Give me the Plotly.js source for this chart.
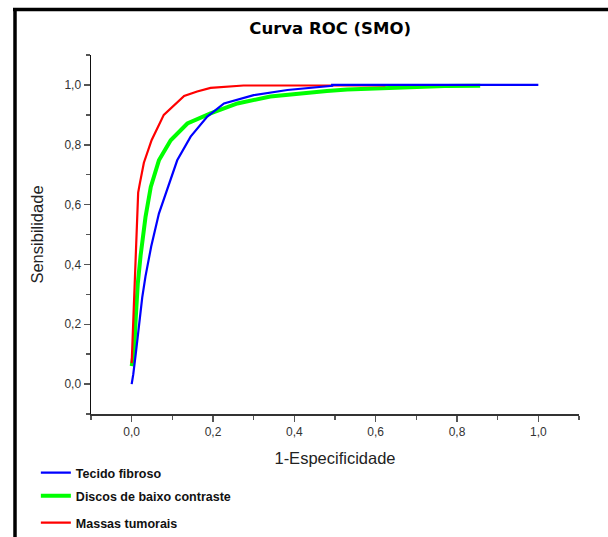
<!DOCTYPE html>
<html>
<head>
<meta charset="utf-8">
<script src="https://cdn.plot.ly/plotly-3.0.1.min.js"></script>
<style>html,body{margin:0;padding:0;background:#fff;}#chart{width:608px;height:537px;}</style>
</head>
<body>
<div id="chart"></div>
<script>
// Tecido fibroso (blue)
const fibrosoX = [0, 0.004, 0.01, 0.018, 0.026, 0.034, 0.048, 0.067, 0.084, 0.112, 0.145, 0.186, 0.227, 0.30, 0.383, 0.493, 0.493, 1.0];
const fibrosoY = [0, 0.033, 0.10, 0.195, 0.29, 0.36, 0.46, 0.57, 0.637, 0.748, 0.827, 0.894, 0.938, 0.966, 0.983, 0.997, 1.0, 1.0];
// Discos de baixo contraste (green)
const discosX = [0, 0.006, 0.01, 0.015, 0.022, 0.034, 0.047, 0.067, 0.096, 0.137, 0.194, 0.26, 0.341, 0.432, 0.48, 0.53, 0.62, 0.71, 0.77, 0.857];
const discosY = [0.06, 0.11, 0.22, 0.335, 0.43, 0.558, 0.659, 0.748, 0.815, 0.871, 0.905, 0.938, 0.961, 0.975, 0.98, 0.985, 0.99, 0.993, 0.996, 0.997];
// Massas tumorais (red)
const massasX = [0, 0.004, 0.008, 0.01, 0.014, 0.016, 0.02, 0.03, 0.049, 0.079, 0.129, 0.161, 0.194, 0.275, 0.624];
const massasY = [0.07, 0.21, 0.31, 0.41, 0.54, 0.64, 0.67, 0.74, 0.815, 0.90, 0.963, 0.978, 0.99, 0.998, 0.998];

const names = ["Tecido fibroso", "Discos de baixo contraste", "Massas tumorais"];
const titleText = "Curva ROC (SMO)";
const xTitle = "1-Especificidade";
const yTitle = "Sensibilidade";

const traces = [
  {x: fibrosoX, y: fibrosoY, name: names[0], mode: "lines", line: {color: "#0000ff", width: 2.2}, legend: "legend"},
  {x: discosX, y: discosY, name: names[1], mode: "lines", line: {color: "#00ff00", width: 4}, legend: "legend2"},
  {x: massasX, y: massasY, name: names[2], mode: "lines", line: {color: "#ff0000", width: 2.2}, legend: "legend3"}
];
const drawOrder = [traces[1], traces[2], traces[0]];

const legFont = {family: "Liberation Sans, Arial, sans-serif", size: 12.5, color: "#111", weight: "bold"};
const legBase = {xref: "paper", yref: "paper", xanchor: "left", yanchor: "middle", bgcolor: "rgba(0,0,0,0)", font: legFont, itemwidth: 30};

const axisFont = {family: "Liberation Sans, Arial, sans-serif", size: 12, color: "#333"};
const layout = {
  width: 608, height: 537,
  margin: {l: 91, r: 29, t: 55, b: 123, autoexpand: false},
  paper_bgcolor: "#fff", plot_bgcolor: "#fff",
  separators: ", ",
  showlegend: true,
  title: {text: titleText, font: {family: "DejaVu Sans, Verdana, sans-serif", size: 16.5, color: "#000", weight: "bold"},
          xref: "container", yref: "container", x: 0.543, xanchor: "center", y: 1 - 28/537, yanchor: "middle"},
  xaxis: {range: [-0.1, 1.1], dtick: 0.2, tick0: 0, tickformat: ".1f", showgrid: false, zeroline: false, automargin: false,
          showline: true, linecolor: "#333", linewidth: 1.5, ticks: "outside", ticklen: 6, tickcolor: "#555", tickwidth: 1.5,
          minor: {dtick: 0.1, tick0: 0, ticks: "outside", ticklen: 4, tickcolor: "#555", tickwidth: 1.5, showgrid: false},
          tickfont: axisFont,
          title: {text: xTitle, font: {family: "Liberation Sans, Arial, sans-serif", size: 16.5, color: "#222"}, standoff: 14}},
  yaxis: {range: [-0.1, 1.1], dtick: 0.2, tick0: 0, tickformat: ".1f", showgrid: false, zeroline: false, automargin: false,
          showline: true, linecolor: "#111", linewidth: 1.5, ticks: "outside", ticklen: 6, tickcolor: "#555", tickwidth: 1.5,
          minor: {dtick: 0.1, tick0: 0, ticks: "outside", ticklen: 4, tickcolor: "#555", tickwidth: 1.5, showgrid: false},
          tickfont: axisFont,
          title: {text: yTitle, font: {family: "Liberation Sans, Arial, sans-serif", size: 16.5, color: "#222"}, standoff: 16}},
  legend: Object.assign({}, legBase, {x: -0.113, y: (414 - 473) / 359}),
  legend2: Object.assign({}, legBase, {x: -0.113, y: (414 - 496) / 359}),
  legend3: Object.assign({}, legBase, {x: -0.113, y: (414 - 523) / 359}),
  shapes: [
    {type: "line", xref: "paper", yref: "paper", x0: (15 - 91) / 488, x1: (15 - 91) / 488, y0: (414 - 9) / 359, y1: (414 - 560) / 359, line: {color: "#000", width: 3.5}},
    {type: "line", xref: "paper", yref: "paper", x0: (13 - 91) / 488, x1: (640 - 91) / 488, y0: (414 - 9.5) / 359, y1: (414 - 9.5) / 359, line: {color: "#000", width: 3.5}}
  ]
};

Plotly.newPlot("chart", drawOrder, layout, {displayModeBar: false, staticPlot: true});
</script>
</body>
</html>
